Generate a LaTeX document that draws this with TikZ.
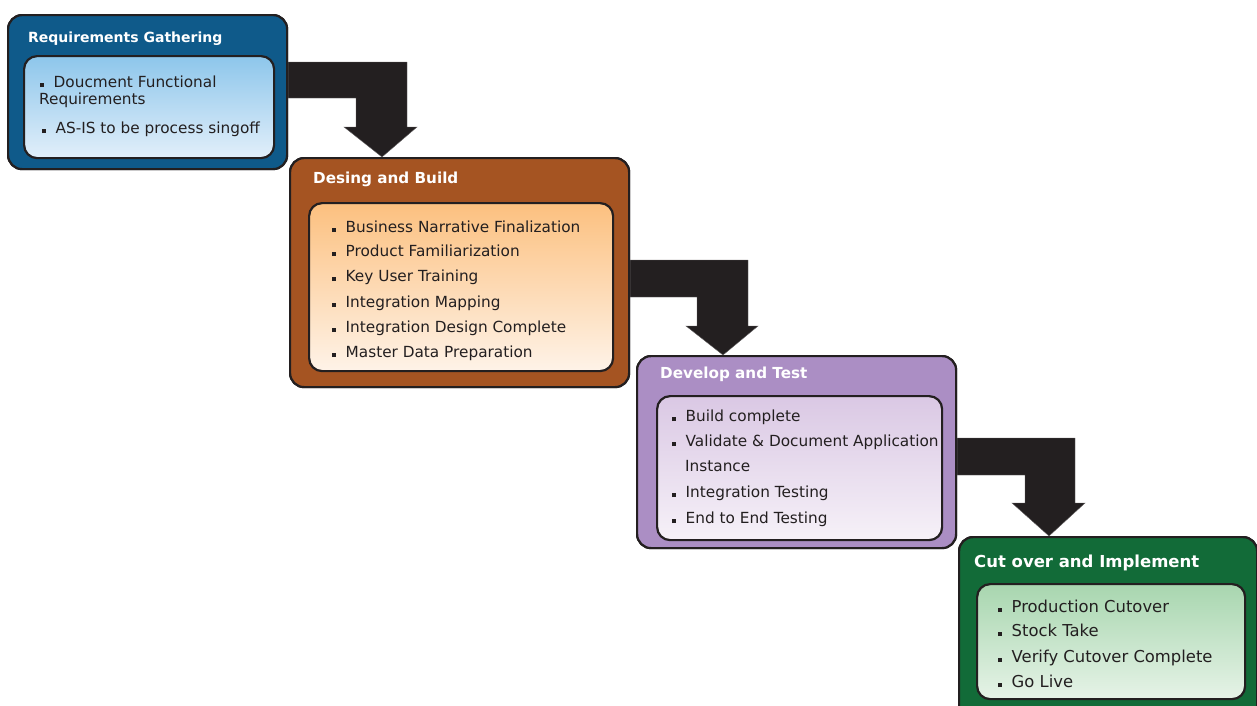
\documentclass[tikz,border=0pt]{standalone}
\usepackage{fontspec}
\setmainfont{DejaVu Sans}
\definecolor{edgec}{HTML}{231F20}
\definecolor{blueo}{HTML}{0F5A8A}
\definecolor{bluet}{HTML}{8DC6EB}
\definecolor{blueb}{HTML}{E2EFFA}
\definecolor{browno}{HTML}{A55422}
\definecolor{brownt}{HTML}{FCC07F}
\definecolor{brownb}{HTML}{FEF3E8}
\definecolor{purpo}{HTML}{AB8EC4}
\definecolor{purpt}{HTML}{DAC8E4}
\definecolor{purpb}{HTML}{F6F1F8}
\definecolor{greeno}{HTML}{126B38}
\definecolor{greent}{HTML}{A8D6AF}
\definecolor{greenb}{HTML}{E6F3E7}
\definecolor{textc}{HTML}{231F20}
\newcommand\bul{\rule{4pt}{4pt}\hspace{9.5pt}}
\tikzset{
  outerbox/.style={draw=edgec, line width=2.2pt, rounded corners=14pt, inner sep=0pt, anchor=north west},
  innerbox/.style={draw=edgec, line width=2.2pt, rounded corners=13pt, inner sep=0pt, anchor=north west},
  titletext/.style={anchor=base west, inner sep=0pt, text=white, font=\bfseries\fontsize{15.2}{17}\selectfont},
  itemtext/.style={anchor=base west, inner sep=0pt, text=textc, font=\fontsize{15.3}{17}\selectfont},
  bigitem/.style={itemtext, font=\fontsize{16.4}{18}\selectfont},
  bigarrow/.style={fill=edgec, draw=edgec!70, line width=0.4pt}
}
\begin{document}
\begin{tikzpicture}[x=1pt,y=-1pt]
\useasboundingbox (0,0) rectangle (1257,705);
\begin{scope}
\clip (0,0) rectangle (1257,705);
% outer boxes
\node[outerbox, fill=blueo, minimum width=279pt, minimum height=154pt] (b1) at (7,14) {};
\node[outerbox, fill=browno, minimum width=339pt, minimum height=229pt] (b2) at (289,157) {};
\node[outerbox, fill=purpo, minimum width=319pt, minimum height=192pt] (b3) at (636,355) {};
\node[outerbox, fill=greeno, minimum width=298pt, minimum height=185pt] (b4) at (958,536) {};
% arrows (drawn from box to box)
\fill[bigarrow] (b1.east |- 0,62) -- (407,62) -- (407,127) -- (417,127)
  -- (b2.north -| 382,0) -- (344,127) -- (356,127) -- (356,98) -- (b1.east |- 0,98) -- cycle;
\fill[bigarrow] (b2.east |- 0,260) -- (748,260) -- (748,326) -- (758,326)
  -- (b3.north -| 723,0) -- (686,326) -- (697,326) -- (697,297) -- (b2.east |- 0,297) -- cycle;
\fill[bigarrow] (b3.east |- 0,438) -- (1075,438) -- (1075,503) -- (1085,503)
  -- (b4.north -| 1049,0) -- (1012,503) -- (1025,503) -- (1025,475) -- (b3.east |- 0,475) -- cycle;
% redraw outer borders over arrow start
\node[outerbox, fill=blueo, minimum width=279pt, minimum height=154pt] at (7,14) {};
\node[outerbox, fill=browno, minimum width=339pt, minimum height=229pt] at (289,157) {};
\node[outerbox, fill=purpo, minimum width=319pt, minimum height=192pt] at (636,355) {};
\node[outerbox, fill=greeno, minimum width=298pt, minimum height=185pt] at (958,536) {};
% inner boxes
\node[innerbox, top color=bluet, bottom color=blueb, minimum width=250pt, minimum height=102pt] (i1) at (23,55) {};
\node[innerbox, top color=brownt, bottom color=brownb, minimum width=304pt, minimum height=168pt] (i2) at (308,202) {};
\node[innerbox, top color=purpt, bottom color=purpb, minimum width=285pt, minimum height=144pt] (i3) at (656,395) {};
\node[innerbox, top color=greent, bottom color=greenb, minimum width=268pt, minimum height=115pt] (i4) at (976,583) {};
\end{scope}
% titles
\node[titletext, font=\bfseries\fontsize{14}{16}\selectfont] (t1) at (28,42) {Requirements Gathering};
\node[titletext] (t2) at (313,183) {Desing and Build};
\node[titletext] (t3) at (660,378) {Develop and Test};
\node[titletext, font=\bfseries\fontsize{16.5}{19}\selectfont] (t4) at (974,567) {Cut over and Implement};
% box 1 items
\node[itemtext] (r1) at (40,87) {\bul Doucment Functional};
\node[itemtext] (r2) at (39,104) {Requirements};
\node[itemtext] (r3) at (42,133) {\bul AS-IS to be process singoff};
% box 2 items
\node[itemtext] (d1) at (332,232) {\bul Business Narrative Finalization};
\node[itemtext] (d2) at (332,256) {\bul Product Familiarization};
\node[itemtext] (d3) at (332,281) {\bul Key User Training};
\node[itemtext] (d4) at (332,307) {\bul Integration Mapping};
\node[itemtext] (d5) at (332,332) {\bul Integration Design Complete};
\node[itemtext] (d6) at (332,357) {\bul Master Data Preparation};
% box 3 items
\node[itemtext] (v1) at (672,421) {\bul Build complete};
\node[itemtext] (v2) at (672,446) {\bul Validate \& Document Application};
\node[itemtext] (v3) at (685,471) {Instance};
\node[itemtext] (v4) at (672,497) {\bul Integration Testing};
\node[itemtext] (v5) at (672,523) {\bul End to End Testing};
% box 4 items
\node[bigitem] (c1) at (998,612) {\bul Production Cutover};
\node[bigitem] (c2) at (998,636) {\bul Stock Take};
\node[bigitem] (c3) at (998,662) {\bul Verify Cutover Complete};
\node[bigitem] (c4) at (998,687) {\bul Go Live};
\end{tikzpicture}
\end{document}
